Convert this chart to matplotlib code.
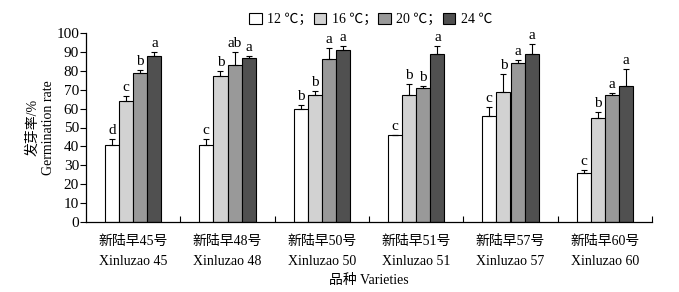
import numpy as np
import matplotlib
matplotlib.use('Agg')
import matplotlib.pyplot as plt
from matplotlib.patches import Patch

plt.rcParams['font.family'] = ['Liberation Serif', 'Noto Sans CJK SC']
plt.rcParams['font.size'] = 10

# 品种
varieties_cn = ['新陆早45号', '新陆早48号', '新陆早50号', '新陆早51号', '新陆早57号', '新陆早60号']
varieties_en = ['Xinluzao 45', 'Xinluzao 48', 'Xinluzao 50', 'Xinluzao 51', 'Xinluzao 57', 'Xinluzao 60']
temps = ['12 ℃；', '16 ℃；', '20 ℃；', '24 ℃']

# germination rate (%) and error
v12 = [41, 41, 60, 46, 56, 26]
e12 = [3, 3, 2, 0, 5, 1.5]
v16 = [64, 77, 67, 67, 69, 55]
e16 = [2.5, 3, 2.3, 6, 9.5, 3]
v20 = [79, 83, 86, 71, 84, 67]
e20 = [1.2, 7, 6, 1, 1.6, 1.3]
v24 = [88, 87, 91, 89, 89, 72]
e24 = [2, 1, 2.2, 4, 5, 9]

# significance letters
l12 = ['d', 'c', 'b', 'c', 'c', 'c']
l16 = ['c', 'b', 'b', 'b', 'b', 'b']
l20 = ['b', 'ab', 'a', 'b', 'a', 'a']
l24 = ['a', 'a', 'a', 'a', 'a', 'a']

colors = ['#ffffff', '#d2d2d2', '#999999', '#505050']

fig = plt.figure(figsize=(6.79, 2.92), dpi=100)
ax = fig.add_axes([86 / 679, 1 - 222 / 292, 566 / 679, 189 / 292])

x = np.arange(len(varieties_cn))
w = 0.15
series = [(v12, e12, l12), (v16, e16, l16), (v20, e20, l20), (v24, e24, l24)]
for k, (v, e, lab) in enumerate(series):
    pos = x + (k - 1.5) * w
    ax.bar(pos, v, w, color=colors[k], edgecolor='black', linewidth=0.8, zorder=2)
    ax.errorbar(pos, v, yerr=[np.zeros(len(v)), e], fmt='none', ecolor='black',
                elinewidth=0.8, capsize=2.5, capthick=0.8, zorder=3)
    for xi, yi, ei, t in zip(pos, v, e, lab):
        ax.annotate(t, (xi, yi + ei), xytext=(0, 1.5), textcoords='offset points',
                    ha='center', va='bottom', fontsize=11)

ax.set_xlim(-0.5, 5.5)
ax.set_ylim(0, 100)
ax.set_yticks(np.arange(0, 101, 10))
ax.set_xticks(x)
ax.set_xticklabels([c + '\n' + en for c, en in zip(varieties_cn, varieties_en)],
                   linespacing=1.75, fontsize=10)
ax.set_xticks(np.arange(0.5, 6, 1), minor=True)
ax.tick_params(axis='x', which='major', length=0, pad=9)
ax.tick_params(axis='x', which='minor', direction='in', length=4, width=0.8)
ax.tick_params(axis='y', direction='out', length=4, width=0.8, pad=1, labelsize=11)
for s in ['top', 'right']:
    ax.spines[s].set_visible(False)
for s in ['left', 'bottom']:
    ax.spines[s].set_linewidth(0.9)

ax.set_ylabel('发芽率/%\nGermination rate', labelpad=1, linespacing=1.2, fontsize=10)
ax.set_xlabel('品种 Varieties', labelpad=4, fontsize=10)

handles = [Patch(facecolor=c, edgecolor='black', linewidth=0.8) for c in colors]
fig.legend(handles, temps, loc='upper center', bbox_to_anchor=(0.546, 1.0), ncol=4,
           frameon=False, handlelength=0.9, handleheight=0.9, handletextpad=0.4,
           columnspacing=0.1, fontsize=10)

fig.savefig('out.png', dpi=100)
